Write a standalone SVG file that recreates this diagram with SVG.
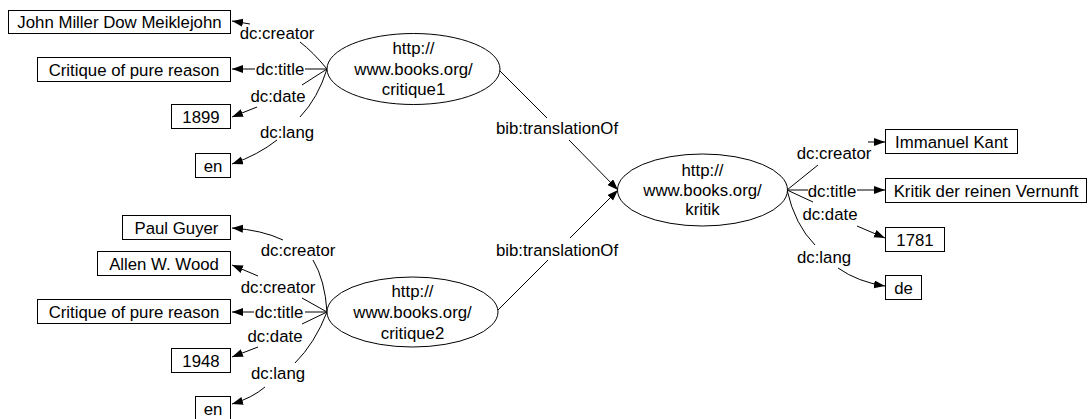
<svg xmlns="http://www.w3.org/2000/svg" width="1088" height="419" viewBox="0 0 1088 419">
<defs>
<style>
text{font-family:"Liberation Sans",Arial,sans-serif;font-size:16.8px;fill:#000;text-anchor:middle}
.box{fill:#fff;stroke:#000;stroke-width:1}
.res{fill:#fff;stroke:#000;stroke-width:1}
.e{fill:none;stroke:#000;stroke-width:1}
.a{fill:none;stroke:#000;stroke-width:1;marker-end:url(#arr)}
</style>
<marker id="arr" markerUnits="userSpaceOnUse" markerWidth="12" markerHeight="10" refX="11" refY="4" orient="auto">
<path d="M0,0 L11,4 L0,8 z" fill="#000"/>
</marker>
</defs>
<rect width="1088" height="419" fill="#fff"/>
<g id="connectors">
<path class="e" d="M327,69 Q313,52 300,42"/><path class="a" d="M250,24 L232,21"/>
<path class="e" d="M327,69 L305,69"/><path class="a" d="M255,69 L232,69"/>
<path class="e" d="M327,69 L302,85"/><path class="a" d="M257,107 L232,117"/>
<path class="e" d="M327,69 Q318,98 300,117"/><path class="a" d="M277,140 Q258,155 232,164"/>
<path class="e" d="M327,312 Q325,280 313,260"/><path class="a" d="M283,240 Q262,230 232,228"/>
<path class="e" d="M327,312 L302,298"/><path class="a" d="M258,276 L232,265"/>
<path class="e" d="M327,312 L305,312"/><path class="a" d="M254,312 L232,312"/>
<path class="e" d="M327,312 L302,324"/><path class="a" d="M258,347 L232,357"/>
<path class="e" d="M327,312 Q315,343 295,363"/><path class="a" d="M265,387 Q252,398 232,404"/>
<path class="e" d="M787,190 L818,165"/><path class="a" d="M868,142 L885,142"/>
<path class="e" d="M787,190 L808,190"/><path class="a" d="M857,190 L885,190"/>
<path class="e" d="M787,190 L813,202"/><path class="a" d="M857,226 L885,238"/>
<path class="e" d="M787,190 Q795,225 815,245"/><path class="a" d="M838,268 Q858,282 885,286"/>
<path class="e" d="M499,70 L547,118"/><path class="a" d="M569,140 L618,190"/>
<path class="e" d="M498,310 L548,260"/><path class="a" d="M570,238 L618,190"/>
<text x="277" y="39">dc:creator</text>
<text x="280" y="75">dc:title</text>
<text x="278" y="102">dc:date</text>
<text x="287" y="138">dc:lang</text>
<text x="298" y="256">dc:creator</text>
<text x="278" y="293">dc:creator</text>
<text x="279" y="318">dc:title</text>
<text x="275" y="342">dc:date</text>
<text x="278" y="379">dc:lang</text>
<text x="834" y="159">dc:creator</text>
<text x="832" y="196.5">dc:title</text>
<text x="830" y="220">dc:date</text>
<text x="824" y="263">dc:lang</text>
<text x="557" y="134">bib:translationOf</text>
<text x="557" y="256">bib:translationOf</text>
</g>
<g id="critique1"><ellipse class="res" cx="413.5" cy="69" rx="86.5" ry="35.5"/><text x="413.5" y="54">http://</text><text x="413.5" y="74.5">www.books.org/</text><text x="413.5" y="95">critique1</text></g>
<g id="critique2"><ellipse class="res" cx="412.5" cy="312" rx="85.5" ry="35"/><text x="412.5" y="297">http://</text><text x="412.5" y="318">www.books.org/</text><text x="412.5" y="339">critique2</text></g>
<g id="kritik"><ellipse class="res" cx="702.5" cy="190" rx="85" ry="36"/><text x="702.5" y="176">http://</text><text x="702.5" y="196">www.books.org/</text><text x="702.5" y="215">kritik</text></g>
<g id="c1creator"><rect class="box" x="8.5" y="10.5" width="222" height="23"/><text x="119.5" y="28">John Miller Dow Meiklejohn</text></g>
<g id="c1title"><rect class="box" x="37.5" y="57.5" width="193" height="24"/><text x="134" y="75.5">Critique of pure reason</text></g>
<g id="c1date"><rect class="box" x="171.5" y="104.5" width="59" height="24"/><text x="201" y="122.5">1899</text></g>
<g id="c1lang"><rect class="box" x="195.5" y="153.5" width="35" height="24"/><text x="213" y="171.5">en</text></g>
<g id="c2creator1"><rect class="box" x="122.5" y="215.5" width="108" height="24"/><text x="176.5" y="233.5">Paul Guyer</text></g>
<g id="c2creator2"><rect class="box" x="97.5" y="251.5" width="133" height="24"/><text x="164" y="269.5">Allen W. Wood</text></g>
<g id="c2title"><rect class="box" x="37.5" y="299.5" width="193" height="24"/><text x="134" y="317.5">Critique of pure reason</text></g>
<g id="c2date"><rect class="box" x="171.5" y="348.5" width="59" height="24"/><text x="201" y="366.5">1948</text></g>
<g id="c2lang"><rect class="box" x="195.5" y="396.5" width="35" height="24"/><text x="213" y="414.5">en</text></g>
<g id="kcreator"><rect class="box" x="885.5" y="129.5" width="132" height="24"/><text x="951.5" y="147.5">Immanuel Kant</text></g>
<g id="ktitle"><rect class="box" x="885.5" y="178.5" width="201" height="24"/><text x="986" y="196.5">Kritik der reinen Vernunft</text></g>
<g id="kdate"><rect class="box" x="885.5" y="227.5" width="59" height="24"/><text x="915" y="245.5">1781</text></g>
<g id="klang"><rect class="box" x="885.5" y="275.5" width="36" height="24"/><text x="903.5" y="293.5">de</text></g>
</svg>
